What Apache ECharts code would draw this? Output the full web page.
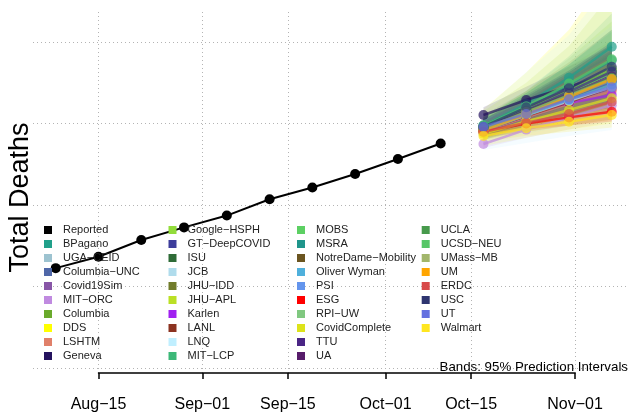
<!DOCTYPE html>
<html><head><meta charset="utf-8">
<script src="https://cdn.jsdelivr.net/npm/echarts@6/dist/echarts.min.js"></script>
<style>html,body{margin:0;padding:0;background:#fff}#c{width:629px;height:413px}</style>
</head><body><div id="c"></div>
<script>
const reportedDates = ['2020-08-08','2020-08-15','2020-08-22','2020-08-29','2020-09-05','2020-09-12','2020-09-19','2020-09-26','2020-10-03','2020-10-10'];
const reportedDeaths = [14450, 14730, 15140, 15450, 15740, 16140, 16430, 16760, 17130, 17510];
const forecastDates = ['2020-10-17','2020-10-24','2020-10-31','2020-11-07'];
const tickDates = ['2020-08-15','2020-09-01','2020-09-15','2020-10-01','2020-10-15','2020-11-01'];
const tickLabels = ['Aug\u221215','Sep\u221201','Sep\u221215','Oct\u221201','Oct\u221215','Nov\u221201'];
const gridValues = [12000, 14000, 16000, 18000, 20000];
const modelNames = ['BPagano','UGA\u2212CEID','Columbia\u2212UNC','Covid19Sim','MIT\u2212ORC','Columbia','DDS','LSHTM','Geneva',
  'Google\u2212HSPH','GT\u2212DeepCOVID','ISU','JCB','JHU\u2212IDD','JHU\u2212APL','Karlen','LANL','LNQ','MIT\u2212LCP',
  'MOBS','MSRA','NotreDame\u2212Mobility','Oliver Wyman','PSI','ESG','RPI\u2212UW','CovidComplete','TTU','UA',
  'UCLA','UCSD\u2212NEU','UMass\u2212MB','UM','ERDC','USC','UT','Walmart'];
const modelMedian = [
  [17950,18480,19120,19885],[17850,18250,18650,19050],[17880,18280,18650,19000],[17780,18150,18500,18850],
  [17497,17850,18150,18450],[17920,18320,18730,19150],[17850,18250,18700,19150],[17820,18150,18480,18800],
  [18209,18577,18900,19250],[17850,18300,18800,19350],[17900,18330,18760,19200],[17870,18260,18660,19080],
  [17830,18250,18700,19150],[17900,18350,18800,19300],[17860,18300,18760,19250],[17860,18260,18500,18700],
  [17830,18180,18520,18900],[17850,18200,18550,18900],[17900,18330,18770,19250],[17890,18330,18800,19300],
  [17950,18420,18950,19550],[17850,18250,18650,19050],[17820,18200,18580,18960],[17860,18260,18650,19050],
  [17799,18000,18150,18290],[17870,18280,18700,19120],[17750,18050,18330,18620],[17900,18320,18780,19271],
  [17880,18300,18720,19150],[17880,18290,18700,19120],[17950,18420,18980,19576],[17870,18280,18690,19100],
  [17820,18220,18650,19085],[17799,18020,18233,18535],[17921,18398,18864,19394],[17921,18233,18594,18889],
  [17693,17882,18044,18209]];
const modelLower = [
  [17750,18150,18600,19050],[17650,17950,18200,18450],[17700,18000,18250,18450],[17600,17900,18100,18300],
  [17400,17650,17850,18050],[17700,18000,18250,18500],[17450,17650,17850,18000],[17600,17850,18050,18250],
  [18000,18250,18450,18650],[17600,17950,18250,18500],[17700,18000,18300,18550],[17650,17950,18200,18400],
  [17500,17750,17950,18100],[17650,18000,18300,18550],[17600,17900,18150,18350],[17700,18000,18150,18250],
  [17650,17900,18150,18400],[17350,17520,17690,17840],[17700,18000,18300,18550],[17700,18050,18350,18650],
  [17750,18100,18450,18800],[17650,17950,18200,18400],[17600,17850,18100,18300],[17650,17950,18200,18400],
  [17700,17850,17950,18050],[17650,17950,18200,18450],[17600,17800,17950,18100],[17700,18000,18300,18600],
  [17700,18000,18250,18500],[17700,18000,18250,18500],[17750,18100,18500,18900],[17650,17950,18200,18400],
  [17650,17950,18250,18550],[17650,17800,17950,18100],[17750,18100,18450,18800],[17750,17950,18200,18400],
  [17550,17700,17800,17900]];
const modelUpper = [
  [18150,18800,19650,20700],[18050,18600,19150,19750],[18080,18600,19150,19700],[17980,18450,18950,19500],
  [17650,18100,18500,18900],[18150,18750,19400,20050],[18350,19250,20300,21800],[18050,18500,18950,19450],
  [18400,18900,19400,19900],[18150,18800,19600,20500],[18100,18650,19250,19900],[18100,18600,19150,19750],
  [18200,18850,19600,20400],[18200,18800,19500,20300],[18300,19000,19900,21200],[18000,18500,18850,19150],
  [18000,18450,18900,19400],[18330,19260,20170,21500],[18100,18650,19250,19950],[18100,18650,19300,19950],
  [18150,18750,19450,20300],[18050,18550,19100,19700],[18050,18550,19100,19650],[18100,18600,19100,19700],
  [17900,18150,18350,18550],[18100,18650,19250,19850],[17900,18300,18700,19150],[18100,18650,19250,19950],
  [18050,18600,19200,19800],[18050,18550,19150,19750],[18150,18750,19450,20250],[18100,18650,19250,19900],
  [18000,18500,19050,19650],[17950,18250,18550,18950],[18100,18700,19300,20000],[18100,18500,19000,19400],
  [17850,18100,18300,18550]];
const modelColors = ['#21a08a','#9dc3d0','#4f67a8','#8856a7','#c08ae0','#6aaa2c','#ffff00','#e0806a','#24125e',
  '#92dc3a','#3d3d9b','#2e6b37','#b0dcec','#717c2b','#bbe025','#a020f0','#8b3220','#c0efff','#3cb878',
  '#5cd063','#1f958b','#6b5520','#4fb0dc','#6495ed','#ff0000','#80c880','#dde31a','#4a2585','#571c6a',
  '#479a4c','#56c667','#a2b66b','#ffa500','#d84a4a','#2e3570','#6470e0','#ffe620'];

const DAY = 86400000;
const ts = s => +echarts.time.parse(s);
const aug15 = ts('2020-08-15');
const dayOf = s => Math.round((ts(s) - aug15) / DAY);
const tickDays = tickDates.map(dayOf);
const repDays = reportedDates.map(dayOf);
const fcDays = forecastDates.map(dayOf);
const FONT = 'Liberation Sans';

const series = [];
series.push({
  type:'custom', name:'bands', xAxisIndex:0, yAxisIndex:0, clip:true, silent:true,
  data: modelNames.map((n,i)=>[fcDays[0], modelLower[i][0], i]),
  renderItem: (params, api) => {
    const i = api.value(2);
    const pts = [];
    fcDays.forEach((d,j) => pts.push(api.coord([d, modelLower[i][j]])));
    for (let j = fcDays.length - 1; j >= 0; j--) pts.push(api.coord([fcDays[j], modelUpper[i][j]]));
    return {type:'polygon', shape:{points:pts}, style:{fill:modelColors[i], opacity:0.16}};
  }
});
series.push({type:'line', name:'Reported', xAxisIndex:0, yAxisIndex:0, symbol:'circle', symbolSize:10,
  lineStyle:{color:'#000', width:2}, itemStyle:{color:'#000'},
  data: repDays.map((d,j)=>[d, reportedDeaths[j]])});
modelNames.forEach((n, i) => {
  series.push({type:'line', name:n, xAxisIndex:0, yAxisIndex:0, symbol:'circle', symbolSize:10,
    lineStyle:{color:modelColors[i], width:2.5, opacity:0.7}, itemStyle:{color:modelColors[i], opacity:0.7},
    data: fcDays.map((d,j)=>[d, modelMedian[i][j]])});
});

const allNames = ['Reported'].concat(modelNames);
const allColors = ['#000000'].concat(modelColors);
const colLeft = [44, 168.5, 297, 421.7];
const legends = [0,1,2,3].map(c => ({
  orient:'vertical', left: colLeft[c], top: 223, padding: 0, itemGap: 0, itemWidth: 8, itemHeight: 8,
  icon:'rect', selectedMode:false,
  textStyle:{fontSize:11, fontFamily:FONT, color:'#222', lineHeight:14, padding:[0,0,0,6]},
  data: allNames.slice(c*10, c*10+10).map((n,k)=>({name:n, icon:'rect', itemStyle:{color:allColors[c*10+k], opacity:1}}))
}));

const dotted = {color:'#b4b4b4', type:[1,3], width:1};
const option = {
  animation:false,
  backgroundColor:'#fff',
  title:{text:'Bands: 95% Prediction Intervals', right:1, top:361, padding:0,
    textStyle:{fontSize:13.3, fontWeight:'normal', fontFamily:FONT, color:'#000'}},
  legend: legends,
  grid:[{left:33, right:0, top:12, bottom:40, outerBoundsMode:'none'},
        {left:98.5, right:54, top:12, bottom:40, outerBoundsMode:'none'}],
  xAxis:[
    {type:'value', gridIndex:0, min: -10.72, max: 86.82,
     axisLine:{show:false}, axisTick:{show:false, customValues: tickDays}, axisLabel:{show:false},
     splitLine:{show:true, lineStyle:dotted}},
    {type:'value', gridIndex:1, min: tickDays[0], max: tickDays[tickDays.length-1], offset: 9,
     axisLine:{show:true, lineStyle:{color:'#000', width:1.5}},
     axisTick:{show:true, customValues: tickDays, length:6, lineStyle:{color:'#000', width:1.5}},
     axisLabel:{customValues: tickDays, showMinLabel:true, showMaxLabel:true, hideOverlap:false,
       fontSize:16, fontFamily:FONT, color:'#000', margin:15,
       formatter: v => { const k = tickDays.indexOf(v); return k >= 0 ? tickLabels[k] : ''; }},
     splitLine:{show:false}}
  ],
  yAxis:[
    {type:'value', gridIndex:0, min:11877, max:20736,
     axisLine:{show:false}, axisTick:{show:false, customValues: gridValues}, axisLabel:{show:false},
     splitLine:{show:true, lineStyle:dotted},
     name:'Total Deaths', nameLocation:'middle', nameGap:-1,
     nameTextStyle:{fontSize:27, fontFamily:FONT, color:'#000', padding:[0,10,0,0]}},
    {type:'value', gridIndex:1, min:0, max:1, show:false}
  ],
  series: series
};
const chart = echarts.init(document.getElementById('c'), null, {renderer:'canvas'});
chart.setOption(option);
</script></body></html>
